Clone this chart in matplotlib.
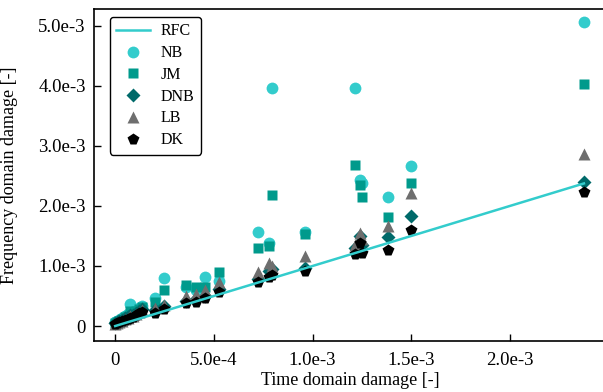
import matplotlib.pyplot as plt
from matplotlib.ticker import FixedLocator, FixedFormatter

plt.rcParams['font.family'] = ['Liberation Serif', 'DejaVu Serif']

# time domain damage (x 1e-3)
td = [0.0, 0.01, 0.02, 0.035, 0.05, 0.065, 0.077, 0.09, 0.105, 0.12, 0.135,
      0.2, 0.245, 0.36, 0.41, 0.455, 0.525, 0.725, 0.78, 0.795, 0.96,
      1.215, 1.24, 1.25, 1.383, 1.5, 2.375]
nb = [0.06, 0.08, 0.10, 0.14, 0.17, 0.20, 0.37, 0.24, 0.27, 0.30, 0.33,
      0.47, 0.80, 0.65, 0.60, 0.82, 0.75, 1.57, 1.38, 3.97, 1.57,
      3.97, 2.43, 2.38, 2.15, 2.67, 5.07]
jm = [0.05, 0.07, 0.09, 0.12, 0.15, 0.17, 0.25, 0.22, 0.25, 0.28, 0.31,
      0.40, 0.60, 0.68, 0.65, 0.65, 0.90, 1.30, 1.33, 2.18, 1.53,
      2.68, 2.35, 2.15, 1.82, 2.38, 4.03]
dnb = [0.05, 0.06, 0.08, 0.10, 0.13, 0.15, 0.18, 0.19, 0.22, 0.25, 0.28,
       0.27, 0.33, 0.42, 0.45, 0.50, 0.62, 0.78, 0.92, 0.95, 0.97,
       1.30, 1.50, 1.35, 1.48, 1.83, 2.40]
lb = [0.04, 0.05, 0.07, 0.09, 0.12, 0.13, 0.16, 0.17, 0.20, 0.23, 0.26,
      0.30, 0.35, 0.50, 0.53, 0.60, 0.73, 0.90, 1.05, 1.00, 1.17,
      1.35, 1.55, 1.45, 1.67, 2.22, 2.87]
dk = [0.03, 0.05, 0.06, 0.08, 0.10, 0.12, 0.14, 0.15, 0.18, 0.21, 0.24,
      0.22, 0.28, 0.38, 0.40, 0.47, 0.57, 0.73, 0.82, 0.85, 0.92,
      1.20, 1.38, 1.22, 1.27, 1.60, 2.23]

scale = 1e-3
x = [v * scale for v in td]

fig = plt.figure(figsize=(6.03, 3.92), dpi=100)
ax = fig.add_axes([0.156, 0.130, 0.85, 0.847])

c_nb = '#33cccc'
ax.plot(x, x, color=c_nb, lw=1.8, label='RFC', zorder=4)
ax.plot(x, [v * scale for v in nb], 'o', ms=8.5, color=c_nb, mec='none', label='NB')
ax.plot(x, [v * scale for v in jm], 's', ms=7.5, color='#009a8c', mec='none', label='JM')
ax.plot(x, [v * scale for v in dnb], 'D', ms=7, color='#006a6a', mec='none', label='DNB')
ax.plot(x, [v * scale for v in lb], '^', ms=8, color='#6e6e6e', mec='none', label='LB')
ax.plot(x, [v * scale for v in dk], 'p', ms=8.5, color='black', mec='none', label='DK')

ax.set_xlim(-0.107e-3, 2.49e-3)
ax.set_ylim(-0.25e-3, 5.28e-3)

xt = [0, 0.5e-3, 1.0e-3, 1.5e-3, 2.0e-3]
ax.xaxis.set_major_locator(FixedLocator(xt))
ax.xaxis.set_major_formatter(FixedFormatter(['0', '5.0e-4', '1.0e-3', '1.5e-3', '2.0e-3']))
yt = [0, 1e-3, 2e-3, 3e-3, 4e-3, 5e-3]
ax.yaxis.set_major_locator(FixedLocator(yt))
ax.yaxis.set_major_formatter(FixedFormatter(['0', '1.0e-3', '2.0e-3', '3.0e-3', '4.0e-3', '5.0e-3']))

ax.tick_params(direction='in', length=5, width=1, labelsize=13.5)
ax.tick_params(axis='y', pad=6)
ax.tick_params(axis='x', pad=8)
ax.spines['right'].set_visible(False)
for s in ['left', 'bottom', 'top']:
    ax.spines[s].set_linewidth(1.2)

ax.set_xlabel('Time domain damage [-]', fontsize=13)
ax.xaxis.set_label_coords(0.5, -0.092)
ax.set_ylabel('Frequency domain damage [-]', fontsize=13)
ax.yaxis.set_label_coords(-0.148, 0.5)

leg = ax.legend(loc='upper left', bbox_to_anchor=(0.031, 0.976), borderaxespad=0,
                fontsize=11.5, numpoints=1, frameon=True, fancybox=True,
                edgecolor='black', framealpha=1, handlelength=2.1,
                handletextpad=0.7, labelspacing=0.36)
leg.get_frame().set_linewidth(1.0)

fig.savefig('out.png', dpi=100)
